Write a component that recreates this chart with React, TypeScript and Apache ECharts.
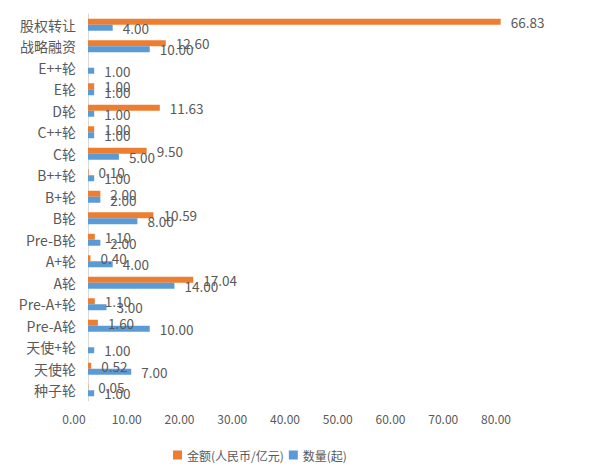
import React, { useEffect, useRef } from "react";
import * as echarts from "echarts";

const categories = [
  "股权转让", "战略融资", "E++轮", "E轮", "D轮", "C++轮", "C轮", "B++轮", "B+轮",
  "B轮", "Pre-B轮", "A+轮", "A轮", "Pre-A+轮", "Pre-A轮", "天使+轮", "天使轮", "种子轮",
];
const amount: (number | null)[] = [
  66.83, 12.6, null, 1.0, 11.63, 1.0, 9.5, 0.1, 2.0, 10.59, 1.1, 0.4, 17.04, 1.1, 1.6, null, 0.52, 0.05,
];
const count: (number | null)[] = [
  4, 10, 1, 1, 1, 1, 5, 1, 2, 8, 2, 4, 14, 3, 10, 1, 7, 1,
];
const seriesNames = ["金额(人民币/亿元)", "数量(起)"];
const xTicks = { min: 0, max: 80, interval: 10 };

const FONT = "'Noto Sans CJK SC', 'Noto Sans', sans-serif";

export default function App() {
  const ref = useRef<HTMLDivElement>(null);
  useEffect(() => {
    if (!ref.current) return;
    const chart = echarts.init(ref.current, undefined, { renderer: "svg" });
    const label = {
      show: true,
      position: "right" as const,
      distance: 10,
      color: "#595959",
      fontSize: 13.5,
      fontFamily: FONT,
      formatter: (p: any) => (p.value == null ? "" : Number(p.value).toFixed(2)),
    };
    chart.setOption({
      animation: false,
      textStyle: { fontFamily: FONT },
      legend: {
        left: 173,
        top: 449,
        padding: 0,
        itemWidth: 9,
        itemHeight: 9,
        itemGap: 5,
        textStyle: { color: "#595959", fontSize: 12, fontFamily: FONT },
        data: [
          { name: seriesNames[0], icon: "rect" },
          { name: seriesNames[1], icon: "rect" },
        ],
      },
      grid: [
        { left: 88, right: 34, top: 14, bottom: 71 },
        { left: 74, width: 422, top: 14, bottom: 71 },
      ],
      xAxis: [
        {
          gridIndex: 0,
          type: "value",
          min: xTicks.min,
          max: xTicks.max,
          interval: xTicks.interval,
          axisLabel: { show: false },
          axisLine: { show: false },
          axisTick: { show: false },
          splitLine: { show: false },
        },
        {
          gridIndex: 1,
          type: "value",
          min: xTicks.min,
          max: xTicks.max,
          interval: xTicks.interval,
          axisLabel: {
            show: true,
            color: "#595959",
            fontSize: 12,
            margin: 11,
            fontFamily: FONT,
            formatter: (v: number) => v.toFixed(2),
          },
          axisLine: { show: false },
          axisTick: { show: false },
          splitLine: { show: false },
        },
      ],
      yAxis: [
        {
          gridIndex: 0,
          type: "category",
          data: categories,
          inverse: true,
          axisLine: { show: true, lineStyle: { color: "#D9D9D9", width: 1 } },
          axisTick: { show: false },
          axisLabel: { color: "#595959", fontSize: 14, margin: 12, fontFamily: FONT },
        },
        {
          gridIndex: 1,
          type: "category",
          data: categories,
          inverse: true,
          show: false,
        },
      ],
      series: [
        {
          name: seriesNames[0],
          type: "bar",
          xAxisIndex: 0,
          yAxisIndex: 0,
          data: amount,
          barWidth: 6,
          barGap: "0%",
          itemStyle: { color: "#ED7D31" },
          label,
        },
        {
          name: seriesNames[1],
          type: "bar",
          xAxisIndex: 0,
          yAxisIndex: 0,
          data: count,
          barWidth: 6,
          barGap: "0%",
          itemStyle: { color: "#5B9BD5" },
          label,
        },
      ],
    });
    return () => chart.dispose();
  }, []);
  return <div ref={ref} style={{ width: 616, height: 472, margin: -8 }} />;
}
